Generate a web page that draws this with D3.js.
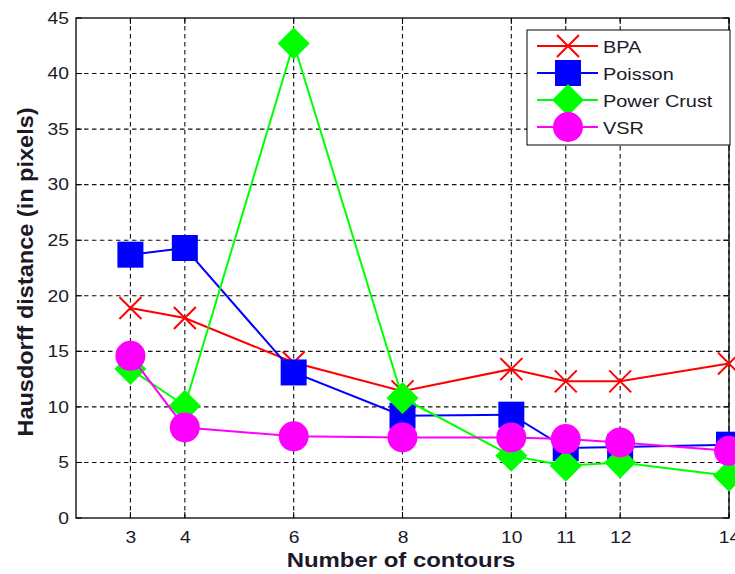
<!DOCTYPE html>
<html><head><meta charset="utf-8">
<script src="https://cdn.jsdelivr.net/npm/d3@7"></script>
<style>body{margin:0;background:#fff;}svg{display:block;font-family:"Liberation Sans",Arial,sans-serif;}</style>
</head><body><svg id="c" width="735" height="574"></svg>
<script>
const contours = [3, 4, 6, 8, 10, 11, 12, 14];
const bpa = [18.9, 18.0, 14.0, 11.4, 13.4, 12.3, 12.3, 13.9];
const poisson = [23.7, 24.3, 13.1, 9.2, 9.3, 6.3, 6.4, 6.6];
const powerCrust = [13.4, 10.1, 42.7, 10.8, 5.6, 4.7, 5.0, 3.8];
const vsr = [14.6, 8.15, 7.35, 7.25, 7.25, 7.1, 6.8, 6.05];
const yTicks = [0, 5, 10, 15, 20, 25, 30, 35, 40, 45];
const seriesNames = ["BPA", "Poisson", "Power Crust", "VSR"];
const seriesColors = ["#ff0000", "#0000ff", "#00ff00", "#ff00ff"];
const seriesMarkers = ["x", "square", "diamond", "circle"];
const seriesValues = [bpa, poisson, powerCrust, vsr];

const svg = d3.select("#c");
const L = 76, R = 729, T = 18, B = 518;
const SX = 1.17; // horizontal glyph stretch
const x = d3.scaleLinear().domain([2, 14]).range([L, R]);
const y = d3.scaleLinear().domain([0, 45]).range([B, T]);
const txt = "#1a1a2a";

// grid
const g = svg.append("g");
g.selectAll(".gx").data(contours).enter().append("line")
  .attr("x1", d => x(d)).attr("x2", d => x(d)).attr("y1", T).attr("y2", B)
  .attr("stroke", "#111").attr("stroke-width", 1.1).attr("stroke-dasharray", "4.5,3.5");
g.selectAll(".gy").data(yTicks.slice(1, -1)).enter().append("line")
  .attr("x1", L).attr("x2", R).attr("y1", d => y(d)).attr("y2", d => y(d))
  .attr("stroke", "#111").attr("stroke-width", 1.1).attr("stroke-dasharray", "4.5,3.5");

// axes
const xAxis = svg.append("g").attr("transform", `translate(0,${B})`)
  .call(d3.axisBottom(x).tickValues(contours).tickSize(0).tickPadding(13).tickFormat(d3.format("d")));
const yAxis = svg.append("g").attr("transform", `translate(${L},0)`)
  .call(d3.axisLeft(y).tickValues(yTicks).tickSize(0).tickPadding(6));
[xAxis, yAxis].forEach(a => {
  a.select(".domain").remove();
  a.selectAll("text").attr("font-size", 16.5).attr("fill", txt)
    .attr("font-family", "Liberation Sans, Arial, sans-serif")
    .attr("transform", `scale(${SX},1)`);
});
// inner ticks
const tk = svg.append("g").attr("stroke", "#000").attr("stroke-width", 1);
contours.forEach(c => {
  tk.append("line").attr("x1", x(c)).attr("x2", x(c)).attr("y1", B).attr("y2", B - 6);
  tk.append("line").attr("x1", x(c)).attr("x2", x(c)).attr("y1", T).attr("y2", T + 6);
});
yTicks.forEach(v => {
  tk.append("line").attr("x1", L).attr("x2", L + 6).attr("y1", y(v)).attr("y2", y(v));
  tk.append("line").attr("x1", R).attr("x2", R - 6).attr("y1", y(v)).attr("y2", y(v));
});
svg.append("rect").attr("x", L).attr("y", T).attr("width", R - L).attr("height", B - T)
  .attr("fill", "none").attr("stroke", "#000").attr("stroke-width", 1.3);

function marker(sel, type, color, cx, cy, s) {
  if (type === "x") {
    const h = s / 2;
    sel.append("path").attr("d", `M${cx-h},${cy-h}L${cx+h},${cy+h}M${cx-h},${cy+h}L${cx+h},${cy-h}`)
      .attr("stroke", color).attr("stroke-width", 2).attr("fill", "none");
  } else if (type === "square") {
    sel.append("rect").attr("x", cx - s / 2).attr("y", cy - s / 2).attr("width", s).attr("height", s).attr("fill", color);
  } else if (type === "diamond") {
    const h = s / 2;
    sel.append("path").attr("d", `M${cx},${cy-h}L${cx+h},${cy}L${cx},${cy+h}L${cx-h},${cy}Z`).attr("fill", color);
  } else {
    sel.append("circle").attr("cx", cx).attr("cy", cy).attr("r", s / 2).attr("fill", color);
  }
}
const sizes = {x: 22, square: 26, diamond: 32, circle: 30};

const line = d3.line().x((d, i) => x(contours[i])).y(d => y(d));
seriesValues.forEach((vals, k) => {
  const gg = svg.append("g");
  gg.append("path").datum(vals).attr("d", line).attr("fill", "none")
    .attr("stroke", seriesColors[k]).attr("stroke-width", 2);
  vals.forEach((v, i) => marker(gg, seriesMarkers[k], seriesColors[k], x(contours[i]), y(v), sizes[seriesMarkers[k]]));
});

// legend
const lg = svg.append("g");
lg.append("rect").attr("x", 527).attr("y", 30).attr("width", 203).attr("height", 115)
  .attr("fill", "#fff").attr("stroke", "#000").attr("stroke-width", 1);
const rowY = [46, 73, 100, 127];
seriesNames.forEach((n, k) => {
  lg.append("line").attr("x1", 537).attr("x2", 598).attr("y1", rowY[k]).attr("y2", rowY[k])
    .attr("stroke", seriesColors[k]).attr("stroke-width", 2);
  marker(lg, seriesMarkers[k], seriesColors[k], 568, rowY[k], sizes[seriesMarkers[k]]);
  lg.append("text").attr("x", 603 / SX).attr("y", rowY[k] + 1).attr("dy", "0.35em")
    .attr("transform", `scale(${SX},1)`)
    .attr("font-size", 17).attr("fill", txt).text(n);
});

// titles
svg.append("text").attr("x", 401 / 1.14).attr("y", 567).attr("text-anchor", "middle")
  .attr("transform", "scale(1.14,1)")
  .attr("font-size", 21).attr("font-weight", "bold").attr("fill", txt).text("Number of contours");
svg.append("text").attr("transform", `translate(33,272) rotate(-90) scale(1.12,1.08)`).attr("text-anchor", "middle")
  .attr("font-size", 21).attr("font-weight", "bold").attr("fill", txt).text("Hausdorff distance (in pixels)");
</script></body></html>
